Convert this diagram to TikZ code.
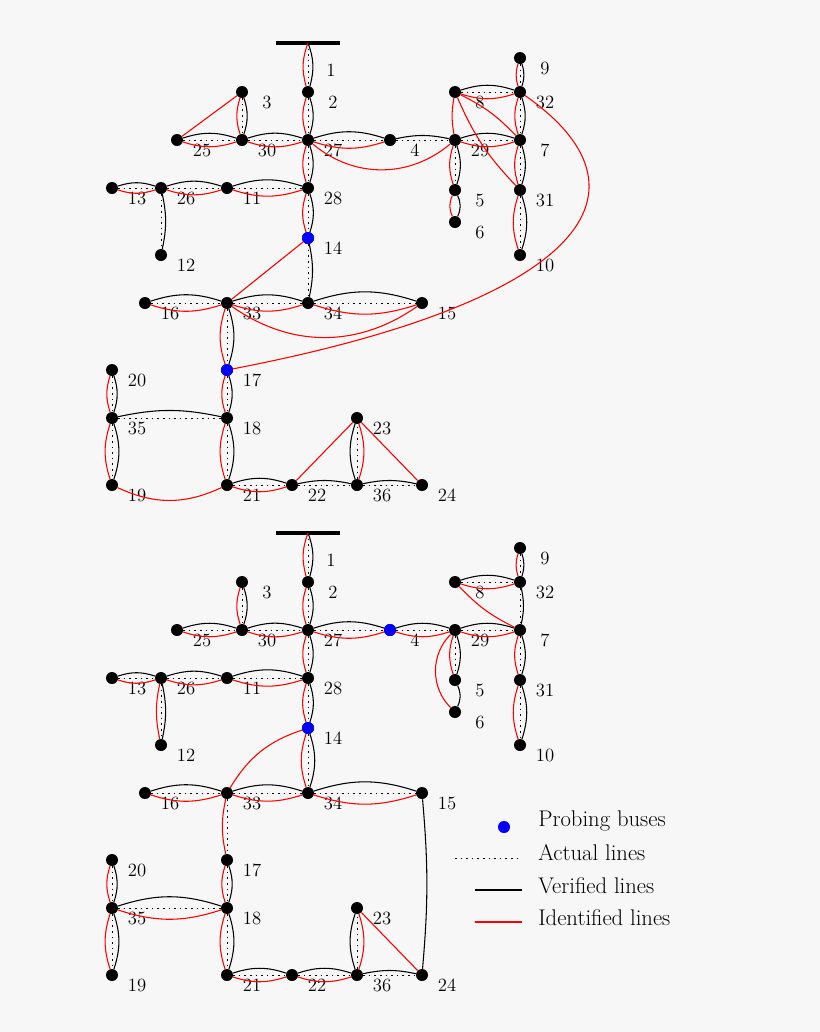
\documentclass[tikz,border=0pt]{standalone}
\usetikzlibrary{calc}

\tikzset{
  bus/.style={circle,fill=black,inner sep=0pt,minimum size=9pt},
  probe/.style={bus,fill=blue},
  lbl/.style={font=\fontsize{14}{15}\selectfont,inner sep=0pt},
  leg/.style={font=\fontsize{17}{18}\selectfont,inner sep=0pt,anchor=west},
  actual/.style={dash pattern=on 1.2pt off 3pt,semithick},
  verified/.style={black,thick},
  identified/.style={red,thick},
}

\begin{document}
\begin{tikzpicture}[x=0.75pt,y=-0.75pt]
\useasboundingbox[fill=black!3] (0,0) rectangle (820,1032);

% buses of both networks
\foreach \p/\dy in {t/0,b/490}{
  \draw[line width=3pt] (276,43+\dy) -- (340,43+\dy);
  \coordinate (\p1) at (308,43+\dy);
  \node[lbl] at (331,70+\dy) {1};
  \foreach \n/\x/\y in {2/308/92,3/242/92,25/177/140,30/242/140,27/308/140,4/390/140,
      29/455/140,8/455/92,9/520/58,32/520/92,7/520/140,31/520/190,10/520/255,
      5/455/190,6/455/222,13/112/188,26/161/188,11/227/188,28/308/188,12/161/255,
      14/308/238,16/145/303,33/227/303,34/308/303,15/422/303,17/227/370,20/112/370,
      35/112/418,18/227/418,19/112/485,21/227/485,22/292/485,36/357/485,
      23/357/418,24/422/485}{
    \node[bus] (\p\n) at (\x,\y+\dy) {};
    \node[lbl] at (\x+25,\y+\dy+10) {\n};
  }
}
\node[probe] at (t14) {};
\node[probe] at (t17) {};
\node[probe] at (b14) {};
\node[probe] at (b4) {};

% top network
\foreach \a/\b in {t1/t2,t2/t27,t3/t30,t25/t30,t30/t27,t27/t4,t29/t5,t8/t32,t9/t32,
    t32/t7,t29/t7,t7/t31,t31/t10,t27/t28,t13/t26,t26/t11,t11/t28,t28/t14,t16/t33,
    t33/t34,t34/t15,t33/t17,t17/t18,t20/t35,t35/t19,t18/t21,t21/t22,t36/t23}{
  \draw[actual] (\a) -- (\b);
  \draw[verified] (\a) to[bend left=18] (\b);
  \draw[identified] (\a) to[bend right=18] (\b);
}
\foreach \a/\b in {t4/t29,t26/t12,t14/t34,t35/t18,t22/t36,t36/t24}{
  \draw[actual] (\a) -- (\b);
  \draw[verified] (\a) to[bend left=12] (\b);
}
\draw[verified] (t5) to[bend left=25] (t6);
\draw[identified] (t5) to[bend right=25] (t6);
\draw[identified] (t3) -- (t25);
\draw[identified] (t27) to[bend right=40] (t29);
\draw[identified] (t29) to[bend left=10] (t8);
\draw[identified] (t8) to[bend left=10] (t7);
\draw[identified] (t8) to[bend right=10] (t31);
\draw[identified] (t32) .. controls (660,190) and (590,300) .. (t17);
\draw[identified] (t14) -- (t33);
\draw[identified] (t33) to[bend right=35] (t15);
\draw[identified] (t19) to[bend right=25] (t21);
\draw[identified] (t22) -- (t23);
\draw[identified] (t23) -- (t24);

% bottom network
\foreach \a/\b in {b1/b2,b2/b27,b3/b30,b25/b30,b30/b27,b27/b4,b4/b29,b29/b5,b8/b32,b9/b32,
    b29/b7,b7/b31,b31/b10,b27/b28,b13/b26,b26/b11,b11/b28,b28/b14,b14/b34,b16/b33,
    b33/b34,b34/b15,b17/b18,b20/b35,b35/b18,b35/b19,b18/b21,b21/b22,b22/b36,b36/b23}{
  \draw[actual] (\a) -- (\b);
  \draw[verified] (\a) to[bend left=18] (\b);
  \draw[identified] (\a) to[bend right=18] (\b);
}
\foreach \a/\b in {b32/b7,b26/b12,b36/b24}{
  \draw[actual] (\a) -- (\b);
  \draw[verified] (\a) to[bend left=12] (\b);
}
\draw[identified] (b26) to[bend right=12] (b12);
\draw[actual] (b33) -- (b17);
\draw[identified] (b33) to[bend right=12] (b17);
\draw[verified] (b5) to[bend left=25] (b6);
\draw[identified] (b29) to[bend right=45] (b6);
\draw[identified] (b8) to[bend right=10] (b7);
\draw[identified] (b14) to[bend right=20] (b33);
\draw[verified] (b15) to[bend left=5] (b24);
\draw[identified] (b23) -- (b24);

% legend
\node[probe] (lgp) at (504,827) {};
\node[leg] at (538,821) {Probing buses};
\draw[actual] (455,858) -- (522,858);
\node[leg] at (538,853) {Actual lines};
\draw[verified] (475,890) -- (522,890);
\node[leg] at (538,886) {Verified lines};
\draw[identified] (475,922) -- (522,922);
\node[leg] at (538,918) {Identified lines};
\end{tikzpicture}
\end{document}
